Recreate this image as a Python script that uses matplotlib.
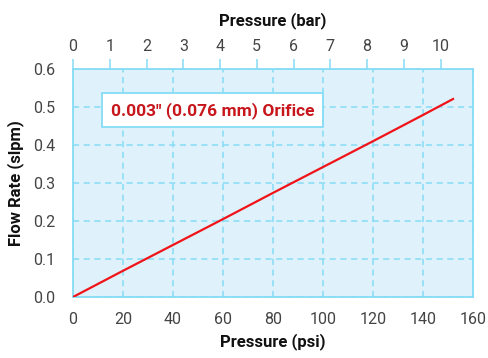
import matplotlib.pyplot as plt
import numpy as np

# flow data
pressure_psi = [0, 20, 40, 60, 80, 100, 120, 140, 152]
flow_slpm = [0.0, 0.069, 0.137, 0.205, 0.274, 0.342, 0.410, 0.479, 0.521]

psi_ticks = [0, 20, 40, 60, 80, 100, 120, 140, 160]
bar_ticks = list(range(0, 11))
flow_ticks = [0.0, 0.1, 0.2, 0.3, 0.4, 0.5, 0.6]
psi_per_bar = 14.7

label_text = '0.003" (0.076 mm) Orifice'

plt.rcParams['font.family'] = ['Roboto', 'DejaVu Sans']

edge = '#86dcf5'
txt = '#444444'

fig = plt.figure(figsize=(4.88, 3.58), dpi=100)
ax = fig.add_axes([73/488, 61/358, 400/488, 228/358])
ax.set_facecolor('#dff1fa')

ax.plot(pressure_psi, flow_slpm, color='#f01419', lw=1.6, zorder=3)

ax.set_xlim(0, 160)
ax.set_ylim(0, 0.6)
ax.set_xticks(psi_ticks)
ax.set_yticks(flow_ticks)
ax.set_yticklabels(['%.1f' % v for v in flow_ticks])
ax.tick_params(length=0, labelsize=11.5, labelcolor=txt)
ax.tick_params(axis='x', pad=11)
ax.tick_params(axis='y', pad=13)
ax.grid(True, color=edge, ls=(0, (4, 3)), lw=1.1)
for s in ax.spines.values():
    s.set_color(edge)
    s.set_linewidth(1.3)

ax.set_xlabel('Pressure (psi)', fontsize=12, fontweight='bold', color='#111111', labelpad=4)
ax.set_ylabel('Flow Rate (slpm)', fontsize=12, fontweight='bold', color='#111111', labelpad=6)

top = ax.twiny()
top.set_xlim(0, 160 / psi_per_bar)
top.set_xticks(bar_ticks)
top.tick_params(direction='out', length=7, color=edge, width=1.1, labelsize=11.5, labelcolor=txt, pad=4)
for s in top.spines.values():
    s.set_visible(False)
top.set_xlabel('Pressure (bar)', fontsize=12, fontweight='bold', color='#111111', labelpad=10)

ax.text(0.095, 0.82, label_text, transform=ax.transAxes, fontsize=12.5, fontweight='bold',
        color='#c8161d', ha='left', va='center', zorder=5,
        bbox=dict(boxstyle='square,pad=0.5', fc='white', ec=edge, lw=1.3))

fig.savefig('out.png', dpi=100)
